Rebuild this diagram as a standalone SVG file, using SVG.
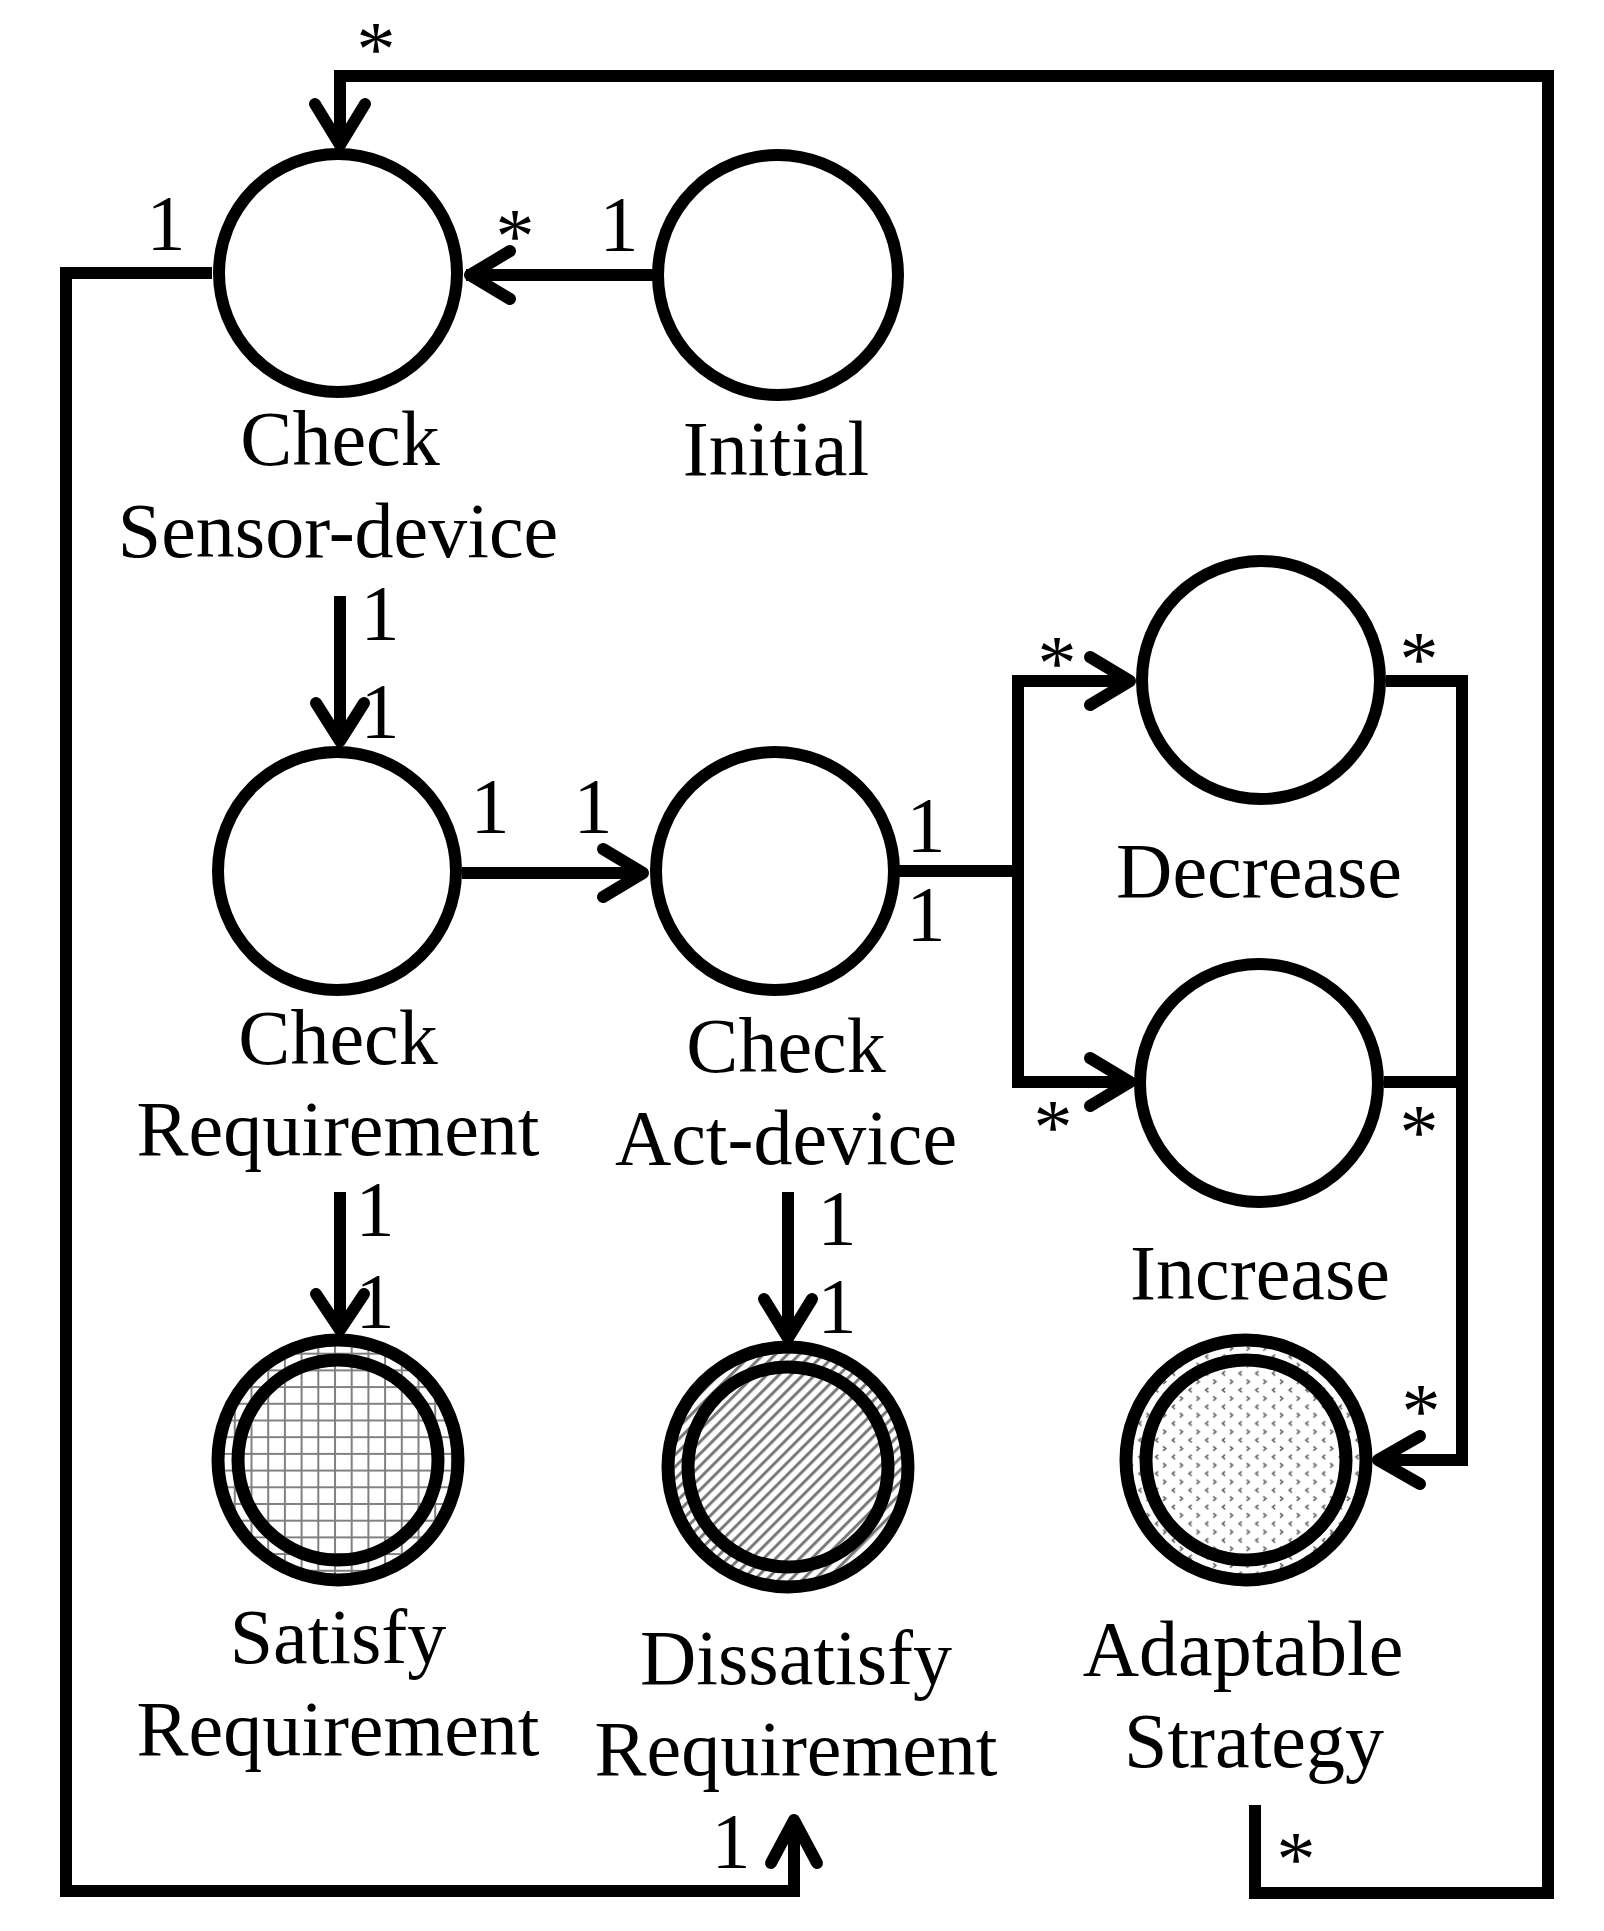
<svg xmlns="http://www.w3.org/2000/svg" width="1604" height="1931" viewBox="0 0 1604 1931">
<style>
text{font-family:"Liberation Serif","Times New Roman",serif;font-size:78px;fill:#000;text-anchor:middle}
.n{fill:#fff;stroke:#000;stroke-width:12}
.ring{fill:none;stroke:#000;stroke-width:13}
.c{fill:none;stroke:#000;stroke-width:12;stroke-linejoin:miter}
.ah{fill:none;stroke:#000;stroke-width:12;stroke-linecap:round;stroke-linejoin:round}
</style>
<defs>
<pattern id="grid" patternUnits="userSpaceOnUse" width="16.7" height="16.7">
<rect width="16.7" height="16.7" fill="#fff"/>
<path d="M1 0V16.7M0 1H16.7" stroke="#808080" stroke-width="2"/>
</pattern>
<pattern id="hatch" patternUnits="userSpaceOnUse" width="8.5" height="8.5" patternTransform="rotate(45)">
<rect width="8.5" height="8.5" fill="#fff"/>
<path d="M1.5 0V8.5" stroke="#7a7a7a" stroke-width="3"/>
</pattern>
<pattern id="chev" patternUnits="userSpaceOnUse" width="16.7" height="16.7">
<rect width="16.7" height="16.7" fill="#fff"/>
<path d="M6 1.8L3.3 4L6 6.2M10.8 10.1L13.5 12.3L10.8 14.5" fill="none" stroke="#666" stroke-width="1.6"/>
</pattern>
</defs>
<g id="connectors">
<path class="c" d="M658 275H466"/>
<polyline class="ah" points="510,251 470,275 510,299"/>
<path class="c" d="M1255 1805V1893H1548V76H340V145"/>
<polyline class="ah" points="315,104 340,145 365,104"/>
<path class="c" d="M212 273H66V1891H794V1820"/>
<polyline class="ah" points="771,1863 794,1820 817,1863"/>
<path class="c" d="M340 596V741"/>
<polyline class="ah" points="316,703 340,741 364,703"/>
<path class="c" d="M462 873H643"/>
<polyline class="ah" points="603,849 643,873 603,897"/>
<path class="c" d="M899 871H1018M1018 680V1083M1012 681H1130M1012 1082H1130"/>
<polyline class="ah" points="1090,657 1130,681 1090,705"/>
<polyline class="ah" points="1090,1058 1130,1082 1090,1106"/>
<path class="c" d="M1386 681H1462V1460H1378M1384 1082H1462"/>
<polyline class="ah" points="1420,1436 1378,1460 1420,1484"/>
<path class="c" d="M340 1192V1330"/>
<polyline class="ah" points="316,1294 340,1330 364,1294"/>
<path class="c" d="M788 1192V1338"/>
<polyline class="ah" points="764,1299 788,1338 812,1299"/>
</g>
<g id="labels">
<text x="166" y="249">1</text>
<text x="515" y="262">*</text>
<text x="619" y="250">1</text>
<text x="376" y="75">*</text>
<text x="380" y="639">1</text>
<text x="380" y="737">1</text>
<text x="490" y="832">1</text>
<text x="593" y="832">1</text>
<text x="926" y="851">1</text>
<text x="926" y="940">1</text>
<text x="1057" y="689">*</text>
<text x="1419" y="685">*</text>
<text x="1053" y="1153">*</text>
<text x="1419" y="1158">*</text>
<text x="375" y="1235">1</text>
<text x="375" y="1327">1</text>
<text x="837" y="1244">1</text>
<text x="837" y="1332">1</text>
<text x="1421" y="1437">*</text>
<text x="1296" y="1885">*</text>
<text x="731" y="1867">1</text>
</g>
<g id="node-sensor">
<circle class="n" cx="338" cy="273" r="119"/>
<text x="340" y="465">Check</text>
<text x="338" y="557">Sensor-device</text>
</g>
<g id="node-initial">
<circle class="n" cx="778" cy="275" r="120"/>
<text x="776" y="475">Initial</text>
</g>
<g id="node-requirement">
<circle class="n" cx="337" cy="871" r="119"/>
<text x="338" y="1064">Check</text>
<text x="338" y="1155">Requirement</text>
</g>
<g id="node-act">
<circle class="n" cx="775" cy="871" r="119"/>
<text x="786" y="1072">Check</text>
<text x="786" y="1164">Act-device</text>
</g>
<g id="node-decrease">
<circle class="n" cx="1261" cy="680" r="119"/>
<text x="1259" y="897">Decrease</text>
</g>
<g id="node-increase">
<circle class="n" cx="1259" cy="1083" r="119"/>
<text x="1260" y="1299">Increase</text>
</g>
<g id="node-satisfy">
<circle cx="338" cy="1460" r="120" fill="url(#grid)"/>
<circle class="ring" cx="338" cy="1460" r="120"/>
<circle class="ring" cx="338" cy="1460" r="100"/>
<text x="338" y="1663">Satisfy</text>
<text x="338" y="1755">Requirement</text>
</g>
<g id="node-dissatisfy">
<circle cx="788" cy="1467" r="120" fill="url(#hatch)"/>
<circle class="ring" cx="788" cy="1467" r="120"/>
<circle class="ring" cx="788" cy="1467" r="100"/>
<text x="796" y="1684">Dissatisfy</text>
<text x="796" y="1775">Requirement</text>
</g>
<g id="node-adaptable">
<circle cx="1246" cy="1460" r="120" fill="url(#chev)"/>
<circle class="ring" cx="1246" cy="1460" r="120"/>
<circle class="ring" cx="1246" cy="1460" r="100"/>
<text x="1243" y="1675">Adaptable</text>
<text x="1254" y="1767">Strategy</text>
</g>
</svg>
